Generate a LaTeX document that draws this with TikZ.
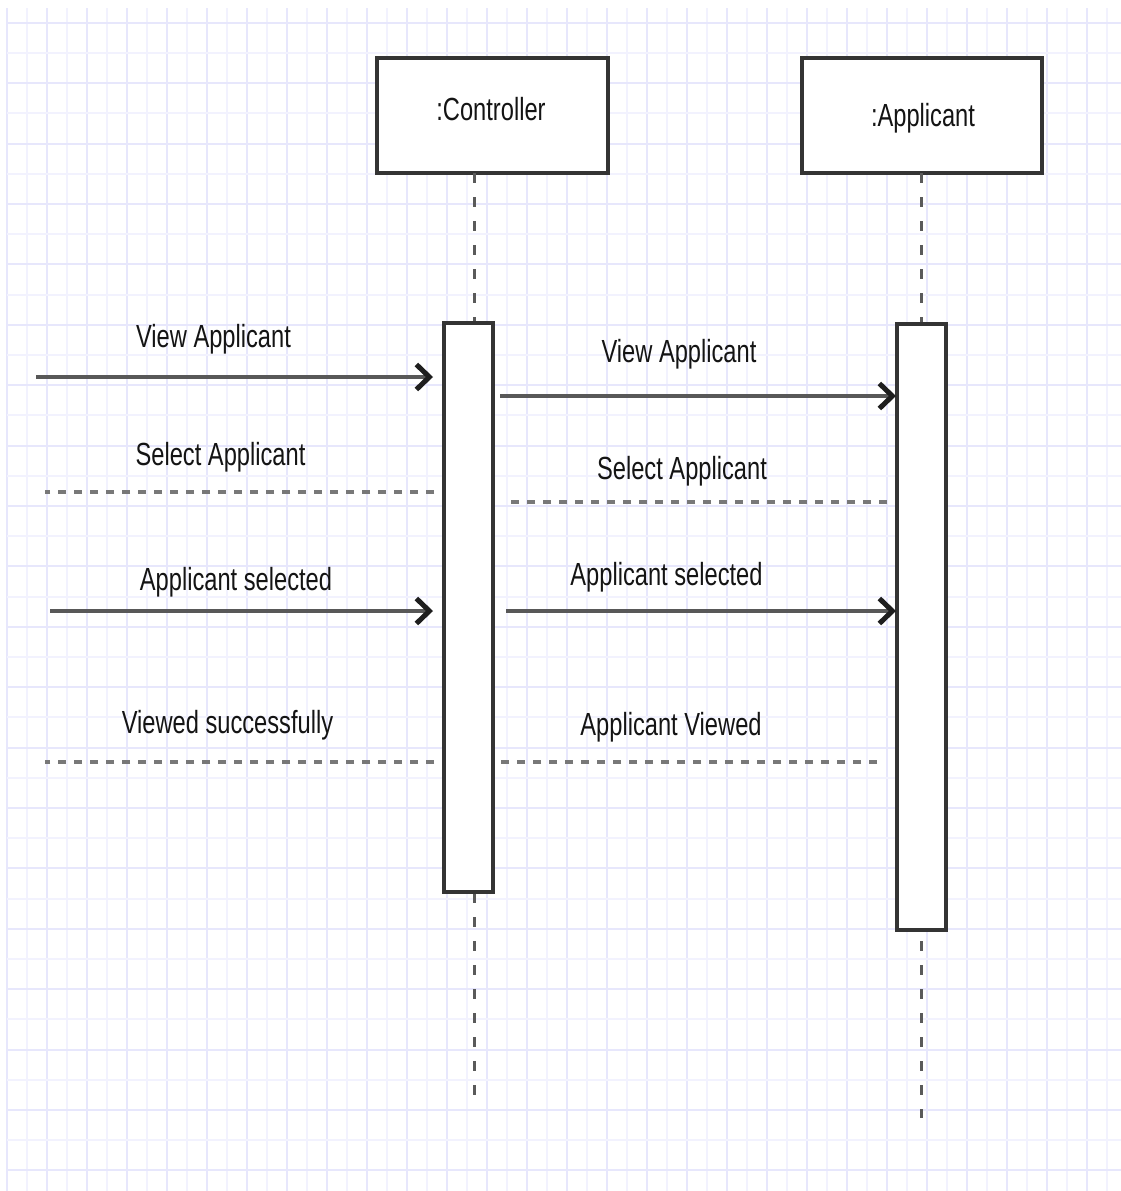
\documentclass[tikz,border=0pt]{standalone}
\usepackage{fontspec}
\setmainfont{Liberation Sans}
\usetikzlibrary{arrows.meta}
\definecolor{gridmajor}{RGB}{231,231,252}
\definecolor{gridminor}{RGB}{242,242,254}
\definecolor{frame}{RGB}{52,52,52}
\definecolor{shaft}{RGB}{88,88,88}
\definecolor{tipdark}{RGB}{30,30,30}
\definecolor{dashgray}{RGB}{120,120,120}
\definecolor{lifegray}{RGB}{90,90,90}
\newcommand\narrowtext[1]{\scalebox{0.74}[1]{#1}}
\tikzset{
  objbox/.style={draw=frame, line width=4pt, fill=white, minimum width=231pt, minimum height=115pt, inner sep=0},
  actbox/.style={draw=frame, line width=3.5pt, fill=white, minimum width=49pt, inner sep=0},
  lifeline/.style={draw=lifegray, line width=3pt, dash pattern=on 10pt off 14pt},
  callmsg/.style={draw=shaft, line width=4.5pt, -{Straight Barb[length=13pt, width=25pt, line width=5pt, color=tipdark]}},
  replymsg/.style={draw=dashgray, line width=4pt, dash pattern=on 8pt off 8pt},
  lbl/.style={font=\fontsize{32}{36}\selectfont, text=black!92, inner sep=0, anchor=base},
}
\begin{document}
\begin{tikzpicture}[x=1pt, y=-1pt]
\useasboundingbox (0,0) rectangle (1121,1191);
\fill[white] (0,0) rectangle (1121,1191);

% squared paper background
\foreach \i in {0,...,55} {
  \pgfmathsetmacro\gx{7+20*\i}
  \pgfmathtruncatemacro\odd{mod(\i,2)}
  \ifnum\odd=0
    \draw[gridmajor, line width=2pt] (\gx,8) -- (\gx,1191);
  \else
    \draw[gridminor, line width=2pt] (\gx,8) -- (\gx,1191);
  \fi
}
\foreach \k in {0,...,38} {
  \pgfmathsetmacro\gy{22.7+30.2*\k}
  \pgfmathtruncatemacro\odd{mod(\k,2)}
  \ifnum\odd=0
    \draw[gridmajor, line width=2pt] (7,\gy) -- (1121,\gy);
  \else
    \draw[gridminor, line width=2pt] (7,\gy) -- (1121,\gy);
  \fi
}

% participants
\node[objbox] (ctrl) at (492.5,115.5) {};
\node[lbl] (ctrltext) at (491,120.5) {\narrowtext{:Controller}};
\node[objbox, minimum width=240pt] (appl) at (921.5,115.5) {};
\node[lbl] (appltext) at (923,126.5) {\narrowtext{:Applicant}};

% lifelines
\coordinate (ctrlend) at (474,1107);
\coordinate (applend) at (921,1118);
\draw[lifeline] (474,173) -- (ctrlend);
\draw[lifeline] (921,173) -- (applend);

% activation bars
\node[actbox, minimum height=569pt] (ctrlact) at (468.5,607.5) {};
\node[actbox, minimum height=606pt] (applact) at (921.5,627) {};

% messages arriving at the controller
\coordinate (m1s) at (36,377);
\coordinate (m1e) at (433,377);
\draw[callmsg] (m1s) -- (m1e);
\node[lbl] (m1) at (213.5,347) {\narrowtext{View Applicant}};

\coordinate (m2s) at (45,492);
\coordinate (m2e) at (434,492);
\draw[replymsg] (m2e) -- (m2s);
\node[lbl] (m2) at (220.5,465) {\narrowtext{Select Applicant}};

\coordinate (m3s) at (50,611);
\coordinate (m3e) at (433,611);
\draw[callmsg] (m3s) -- (m3e);
\node[lbl] (m3) at (236,590.5) {\narrowtext{Applicant selected}};

\coordinate (m4s) at (45,762);
\coordinate (m4e) at (434,762);
\draw[replymsg] (m4e) -- (m4s);
\node[lbl] (m4) at (227.5,733) {\narrowtext{Viewed successfully}};

% messages between controller and applicant
\coordinate (m5s) at (500,396);
\coordinate (m5e) at (896,396);
\draw[callmsg] (m5s) -- (m5e);
\node[lbl] (m5) at (679,362) {\narrowtext{View Applicant}};

\coordinate (m6s) at (511,502);
\coordinate (m6e) at (887,502);
\draw[replymsg] (m6e) -- (m6s);
\node[lbl] (m6) at (682,479) {\narrowtext{Select Applicant}};

\coordinate (m7s) at (506,611);
\coordinate (m7e) at (896,611);
\draw[callmsg] (m7s) -- (m7e);
\node[lbl] (m7) at (666.5,585) {\narrowtext{Applicant selected}};

\coordinate (m8s) at (500,762);
\coordinate (m8e) at (877,762);
\draw[replymsg] (m8e) -- (m8s);
\node[lbl] (m8) at (671,735) {\narrowtext{Applicant Viewed}};
\end{tikzpicture}
\end{document}
